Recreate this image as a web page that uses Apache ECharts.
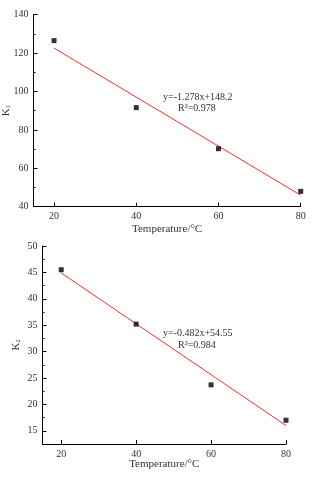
<!DOCTYPE html>
<html>
<head>
<meta charset="utf-8">
<script src="https://cdn.jsdelivr.net/npm/echarts@6/dist/echarts.min.js"></script>
<style>
  html, body { margin: 0; padding: 0; background: #fff; }
  #chart { width: 334px; height: 480px; }
</style>
</head>
<body>
<div id="chart"></div>
<script>
var temps = [20, 40, 60, 80];
var k1Values = [126.5, 91.6, 70.2, 48.0];
var k2Values = [45.5, 35.2, 23.7, 17.0];
// fitted line end points as drawn (x = 20 and x = 80)
var fitX = [20, 80];
var fit1Values = [122.6, 46.0];
var fit2Values = [44.9, 16.0];
var xTicks = [20, 40, 60, 80];
var y2Ticks = [15, 20, 25, 30, 35, 40, 45, 50];
var y2MinorTicks = [17.5, 22.5, 27.5, 32.5, 37.5, 42.5, 47.5];

var font = '"Liberation Serif", "Times New Roman", serif';
var textColor = '#333';

var chart = echarts.init(document.getElementById('chart'));

function pairs(xs, ys) {
    let out = [];
    for (let i = 0; i < xs.length; i++) {
        out.push([xs[i], ys[i]]);
    }
    return out;
}

function xAxisFor(gridIndex, gap) {
    return {
        type: 'value',
        gridIndex: gridIndex,
        min: 15,
        max: 80,
        name: 'Temperature/\u00b0C',
        nameLocation: 'middle',
        nameGap: gap,
        nameMoveOverlap: false,
        nameTextStyle: { fontFamily: font, fontSize: 11, color: textColor },
        axisLine: { lineStyle: { color: '#000', width: 1 } },
        axisTick: { inside: true, length: 4, customValues: xTicks, lineStyle: { color: '#000' } },
        axisLabel: { customValues: xTicks, fontFamily: font, fontSize: 10, color: textColor, margin: 5 },
        splitLine: { show: false }
    };
}

function yName(sub) {
    return '{k|K}{s|' + sub + '}';
}

var nameRich = {
    k: { fontFamily: font, fontSize: 11, color: textColor },
    s: { fontFamily: font, fontSize: 6, color: textColor, padding: [5, 0, 0, 0] }
};

var option = {
    animation: false,
    grid: [
        { left: 33.5, top: 14.7, width: 267.2, height: 192, outerBoundsMode: 'none', containLabel: false },
        { left: 42.5, top: 246, width: 243.5, height: 198, outerBoundsMode: 'none', containLabel: false }
    ],
    xAxis: [xAxisFor(0, 17), xAxisFor(1, 15)],
    yAxis: [
        {
            type: 'value',
            gridIndex: 0,
            min: 40,
            max: 140,
            interval: 20,
            name: yName('1'),
            nameLocation: 'middle',
            nameRotate: 90,
            nameGap: 22,
            nameMoveOverlap: false,
            nameTextStyle: { rich: nameRich },
            axisLine: { show: true, lineStyle: { color: '#000', width: 1 } },
            axisTick: { show: true, inside: true, length: 4, lineStyle: { color: '#000' } },
            minorTick: { show: true, splitNumber: 2, length: 2, lineStyle: { color: '#000' } },
            axisLabel: { fontFamily: font, fontSize: 10, color: textColor, margin: 5 },
            splitLine: { show: false }
        },
        {
            type: 'value',
            gridIndex: 1,
            position: 'left',
            min: 12.5,
            max: 50,
            name: yName('2'),
            nameLocation: 'middle',
            nameRotate: 90,
            nameGap: 21,
            nameMoveOverlap: false,
            nameTextStyle: { rich: nameRich },
            axisLine: { show: true, lineStyle: { color: '#000', width: 1 } },
            axisTick: { show: true, inside: true, length: 4, customValues: y2Ticks, lineStyle: { color: '#000' } },
            axisLabel: { customValues: y2Ticks, fontFamily: font, fontSize: 10, color: textColor, margin: 5 },
            splitLine: { show: false }
        },
        {
            // minor ticks for the lower chart
            type: 'value',
            gridIndex: 1,
            position: 'left',
            offset: 0,
            min: 12.5,
            max: 50,
            axisLine: { show: false },
            axisTick: { show: true, inside: true, length: 2, customValues: y2MinorTicks, lineStyle: { color: '#000' } },
            axisLabel: { show: false },
            splitLine: { show: false }
        }
    ],
    graphic: [
        { type: 'text', left: 163, top: 92, style: { text: 'y=-1.278x+148.2', font: '10px ' + font, fill: textColor } },
        { type: 'text', left: 178, top: 103, style: { text: 'R\u00b2=0.978', font: '10px ' + font, fill: textColor } },
        { type: 'text', left: 163, top: 328, style: { text: 'y=-0.482x+54.55', font: '10px ' + font, fill: textColor } },
        { type: 'text', left: 178, top: 340, style: { text: 'R\u00b2=0.984', font: '10px ' + font, fill: textColor } }
    ],
    series: [
        {
            type: 'line',
            xAxisIndex: 0,
            yAxisIndex: 0,
            data: pairs(fitX, fit1Values),
            symbol: 'none',
            lineStyle: { color: '#ff2a2a', width: 1 },
            z: 2
        },
        {
            type: 'scatter',
            xAxisIndex: 0,
            yAxisIndex: 0,
            data: pairs(temps, k1Values),
            symbol: 'rect',
            symbolSize: 5,
            itemStyle: { color: '#000' },
            z: 3
        },
        {
            type: 'line',
            xAxisIndex: 1,
            yAxisIndex: 1,
            data: pairs(fitX, fit2Values),
            symbol: 'none',
            lineStyle: { color: '#ff2a2a', width: 1 },
            z: 2
        },
        {
            type: 'scatter',
            xAxisIndex: 1,
            yAxisIndex: 1,
            data: pairs(temps, k2Values),
            symbol: 'rect',
            symbolSize: 5,
            itemStyle: { color: '#000' },
            z: 3
        }
    ]
};

chart.setOption(option);
</script>
</body>
</html>
